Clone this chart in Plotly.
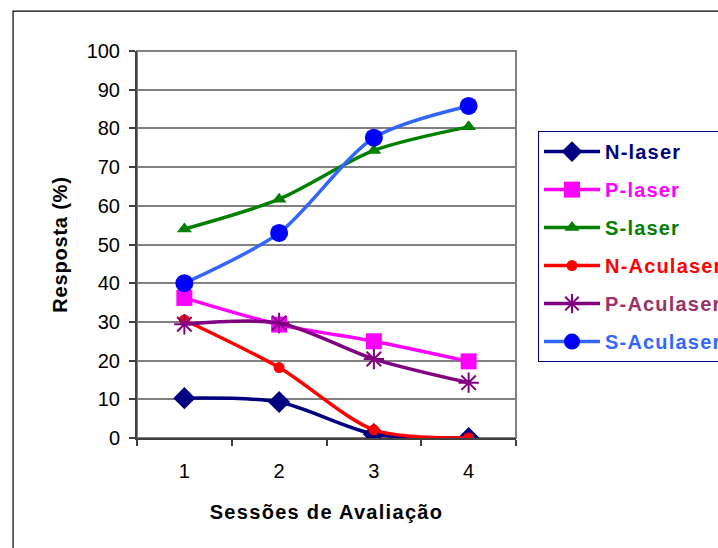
import plotly.graph_objects as go

# Avaliação por sessão
sessions = ["1", "2", "3", "4"]

n_laser = [10.3, 9.3, 1.0, 0.0]
p_laser = [36.2, 29.3, 25.0, 19.8]
s_laser = [54.0, 61.7, 74.3, 80.4]
n_aculaser = [30.5, 18.2, 2.1, 0.0]
p_aculaser = [29.4, 29.7, 20.4, 14.3]
s_aculaser = [40.0, 53.0, 77.6, 85.8]

y_ticks = list(range(0, 101, 10))

series = [
    dict(name="N-laser", y=n_laser, line="#000080", marker="#000080",
         symbol="diamond", size=17, text="#000080"),
    dict(name="P-laser", y=p_laser, line="#FF00FF", marker="#FF00FF",
         symbol="square", size=16, text="#FF00FF"),
    dict(name="S-laser", y=s_laser, line="#008000", marker="#008000",
         symbol="triangle-up", size=13, text="#008000"),
    dict(name="N-Aculaser", y=n_aculaser, line="#FF0000", marker="#FF0000",
         symbol="circle", size=11, text="#FF0000"),
    dict(name="P-Aculaser", y=p_aculaser, line="#800080", marker="#800080",
         symbol="asterisk-open", size=17, text="#993366"),
    dict(name="S-Aculaser", y=s_aculaser, line="#3366FF", marker="#0000FF",
         symbol="circle", size=18, text="#3366FF"),
]

fig = go.Figure()
for s in series:
    mk = dict(symbol=s["symbol"], size=s["size"], color=s["marker"])
    if s["symbol"] == "asterisk-open":
        mk["line"] = dict(color=s["marker"], width=2)
    else:
        mk["line"] = dict(width=0)
    label = (f"<b><span style='color:{s['text']};letter-spacing:1.2px'>"
             f"{s['name']}</span></b>")
    fig.add_trace(go.Scatter(
        x=sessions, y=s["y"], name=label, mode="lines+markers",
        line=dict(color=s["line"], width=3.5, shape="spline", smoothing=0.8),
        marker=mk, legendgroup=s["name"],
    ))

fig.update_layout(
    width=718, height=548,
    margin=dict(l=137, r=202, t=51, b=110, autoexpand=False),
    paper_bgcolor="white", plot_bgcolor="white",
    font=dict(family="Liberation Sans, Arial, sans-serif", size=20, color="black"),
    showlegend=True,
    legend=dict(
        x=1.058, y=0.793, xanchor="left", yanchor="top",
        bordercolor="#000080", borderwidth=1, bgcolor="white",
        font=dict(size=20, family="Liberation Sans, Arial, sans-serif"),
        tracegroupgap=9, itemwidth=56,
    ),
    xaxis=dict(
        type="category", tickson="boundaries", ticks="outside", ticklen=6,
        tickcolor="#404040", tickwidth=1.5, showgrid=False,
        showline=True, linecolor="#404040", linewidth=2,
        ticklabelstandoff=14,
        title=dict(
            text="<b><span style='letter-spacing:1.3px'>Sessões de Avaliação</span></b>",
            font=dict(size=20), standoff=24),
        range=[-0.5, 3.5],
    ),
    yaxis=dict(
        range=[0, 100], tickvals=y_ticks, ticks="outside", ticklen=6,
        tickcolor="#404040", tickwidth=1.5,
        showgrid=True, gridcolor="#808080", gridwidth=1.5,
        showline=True, linecolor="#404040", linewidth=2,
        zeroline=False, ticklabelstandoff=5,
        title=dict(text="<b><span style='letter-spacing:0.8px'>Resposta (%)</span></b>",
                   font=dict(size=20), standoff=14),
    ),
    shapes=[
        # plot-area frame (top and right edges in grey)
        dict(type="rect", xref="paper", yref="paper", x0=0, y0=0, x1=1, y1=1,
             line=dict(color="#808080", width=2), layer="below"),
        # outer chart border
        dict(type="rect", xref="paper", yref="paper", x0=-0.327, y0=-0.5,
             x1=1.6, y1=1.103, line=dict(color="black", width=1.2), layer="below"),
    ],
)

fig.write_html("out.html")
